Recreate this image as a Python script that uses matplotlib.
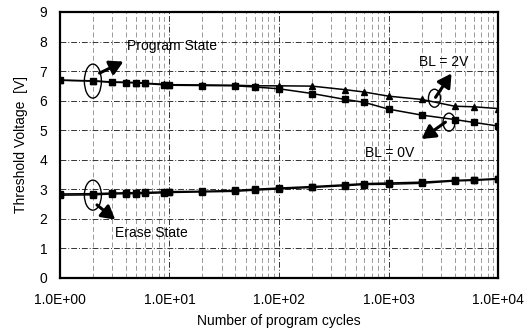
import matplotlib.pyplot as plt
import numpy as np
from matplotlib.patches import Ellipse
from matplotlib.ticker import FixedLocator, NullFormatter

plt.rcParams['font.family'] = ['Liberation Sans', 'DejaVu Sans']

# program cycles
cycles = [1, 2, 3, 4, 5, 6, 9, 10, 20, 40, 60, 100, 200, 400, 600, 1000, 2000, 4000, 6000, 10000]

# program state
prog_bl2 = [6.69, 6.67, 6.63, 6.62, 6.61, 6.59, 6.55, 6.54, 6.53, 6.52, 6.50, 6.50, 6.49, 6.37, 6.29, 6.15, 6.04, 5.81, 5.79, 5.73]
prog_bl0 = [6.69, 6.66, 6.62, 6.61, 6.60, 6.58, 6.53, 6.52, 6.51, 6.50, 6.46, 6.40, 6.24, 6.04, 5.94, 5.71, 5.51, 5.36, 5.26, 5.14]

# erase state
erase_bl2 = [2.84, 2.85, 2.87, 2.88, 2.88, 2.89, 2.91, 2.92, 2.93, 2.96, 3.00, 3.04, 3.09, 3.15, 3.19, 3.21, 3.24, 3.30, 3.32, 3.36]
erase_bl0 = [2.80, 2.81, 2.84, 2.85, 2.85, 2.86, 2.88, 2.89, 2.91, 2.93, 2.97, 3.01, 3.06, 3.12, 3.16, 3.17, 3.20, 3.28, 3.30, 3.34]

xtick_vals = [1, 10, 100, 1000, 10000]
xtick_labels = ['1.0E+00', '1.0E+01', '1.0E+02', '1.0E+03', '1.0E+04']

fig = plt.figure(figsize=(5.3, 3.32), dpi=100)
ax = fig.add_axes([0.113, 0.163, 0.827, 0.801])

ax.plot(cycles, prog_bl2, color='black', lw=1.1, marker='^', ms=5, zorder=3)
ax.plot(cycles, prog_bl0, color='black', lw=1.1, marker='s', ms=5, zorder=3)
ax.plot(cycles, erase_bl2, color='black', lw=1.1, marker='s', ms=5, zorder=3)
ax.plot(cycles, erase_bl0, color='black', lw=1.1, marker='s', ms=5, zorder=3)

ax.set_xscale('log')
ax.set_xlim(1, 10000)
ax.set_ylim(0, 9)
ax.set_yticks(range(0, 10))
ax.set_xticks(xtick_vals)
ax.set_xticklabels(xtick_labels)
minors = [m * 10 ** d for d in range(4) for m in range(2, 10)]
ax.xaxis.set_minor_locator(FixedLocator(minors))
ax.xaxis.set_minor_formatter(NullFormatter())
ax.tick_params(which='both', length=0, labelsize=10)
ax.tick_params(axis='x', pad=11)
ax.tick_params(axis='y', pad=9)

ax.grid(True, which='major', color='#333333', lw=0.7, ls=(0, (6, 2, 1, 2)))
ax.grid(True, which='minor', axis='x', color='#999999', lw=0.7, ls=(0, (5, 3)))
ax.set_axisbelow(True)

for s in ax.spines.values():
    s.set_linewidth(1.6)

ax.set_xlabel('Number of program cycles', fontsize=10, labelpad=5)
ax.set_ylabel('Threshold Voltage  [V]', fontsize=10, labelpad=8)


def arrow(x0, y0, x1, y1):
    ax.annotate('', xy=(x1, y1), xytext=(x0, y0),
                arrowprops=dict(arrowstyle='-|>,head_width=0.45,head_length=0.8', color='black',
                                lw=2.2, shrinkA=0, shrinkB=0))


# ellipse sizes given in pixels around a data point
def ell_px(xc, y, w, h):
    px = ax.transData.transform((xc, y))
    e = Ellipse(px, w, h, transform=None, fill=False, ec='black', lw=1.0, zorder=4)
    fig.add_artist(e)


ax.text(10.6, 7.84, 'Program State', fontsize=10, ha='center', va='center')
ax.text(6.9, 1.52, 'Erase State', fontsize=10, ha='center', va='center')
ax.text(3160, 7.3, 'BL = 2V', fontsize=10, ha='center', va='center')
ax.text(1030, 4.22, 'BL = 0V', fontsize=10, ha='center', va='center')

arrow(2.3, 6.93, 3.8, 7.32)
arrow(2.18, 2.47, 3.2, 1.97)
arrow(2680, 6.11, 3750, 6.92)
arrow(3300, 5.27, 2000, 4.7)

fig.canvas.draw()
ell_px(2.0, 6.66, 17, 34)
ell_px(2.0, 2.8, 17, 30)
ell_px(2620, 6.08, 12, 18)
ell_px(3560, 5.27, 12, 18)

fig.savefig('out.png', dpi=100)
